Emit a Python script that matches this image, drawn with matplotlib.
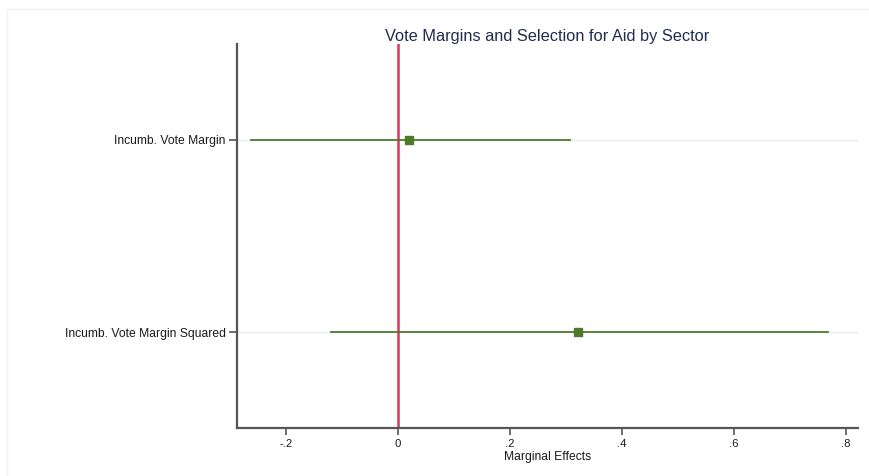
import matplotlib
matplotlib.use("Agg")
import matplotlib.pyplot as plt
from matplotlib.patches import Rectangle

plt.rcParams['font.family'] = ['Liberation Sans', 'DejaVu Sans']

# Coefficient estimates with 95% confidence intervals
labels = ["Incumb. Vote Margin", "Incumb. Vote Margin Squared"]
estimates = [0.020, 0.321]
ci_low = [-0.263, -0.120]
ci_high = [0.307, 0.768]
xticks = [-0.2, 0, 0.2, 0.4, 0.6, 0.8]
xticklabels = ["-.2", "0", ".2", ".4", ".6", ".8"]

green = "#4f7a2c"
fig = plt.figure(figsize=(8.69, 4.76), dpi=100)
ax = fig.add_axes([0.2727, 0.1008, 0.7146, 0.8068])

ypos = list(range(1, len(labels) + 1))
for y in ypos:
    ax.axhline(y, color="#e4ebee", lw=1.0, zorder=0)

ax.axvline(0, color="#d7385a", lw=1.8, zorder=1)

for y, est, lo, hi in zip(ypos, estimates, ci_low, ci_high):
    ax.plot([lo, hi], [y, y], color=green, lw=1.3, zorder=2)
    ax.plot([est], [y], marker="s", ms=5.5, color=green, mec=green, zorder=3)

ax.set_xlim(-0.2875, 0.821)
ax.set_ylim(2.5, 0.5)
ax.set_yticks(ypos)
ax.set_yticklabels(labels, fontsize=8.7, color="#1a1a1a")
ax.set_xticks(xticks)
ax.set_xticklabels(xticklabels, fontsize=8.2, color="#1a1a1a")
ax.set_xlabel("Marginal Effects", fontsize=8.7, color="#1a1a1a", labelpad=1)
ax.set_title("Vote Margins and Selection for Aid by Sector", fontsize=11.8,
             color="#1f2d4e", pad=2)

for side in ("top", "right"):
    ax.spines[side].set_visible(False)
for side in ("left", "bottom"):
    ax.spines[side].set_color("#555555")
    ax.spines[side].set_linewidth(1.6)
ax.tick_params(axis="both", direction="out", color="#555555", width=1.2,
               length=6, pad=2)
ax.tick_params(axis="x", length=5, pad=3)

# faint frame around the graph region
fig.patches.append(Rectangle((7 / 869, -0.05), (869 - 7) / 869 + 0.05,
                             (476 - 9) / 476 + 0.05,
                             transform=fig.transFigure, fill=False,
                             edgecolor="#eef1f2", lw=1.0))

fig.savefig("out.png", dpi=100, facecolor="white")
